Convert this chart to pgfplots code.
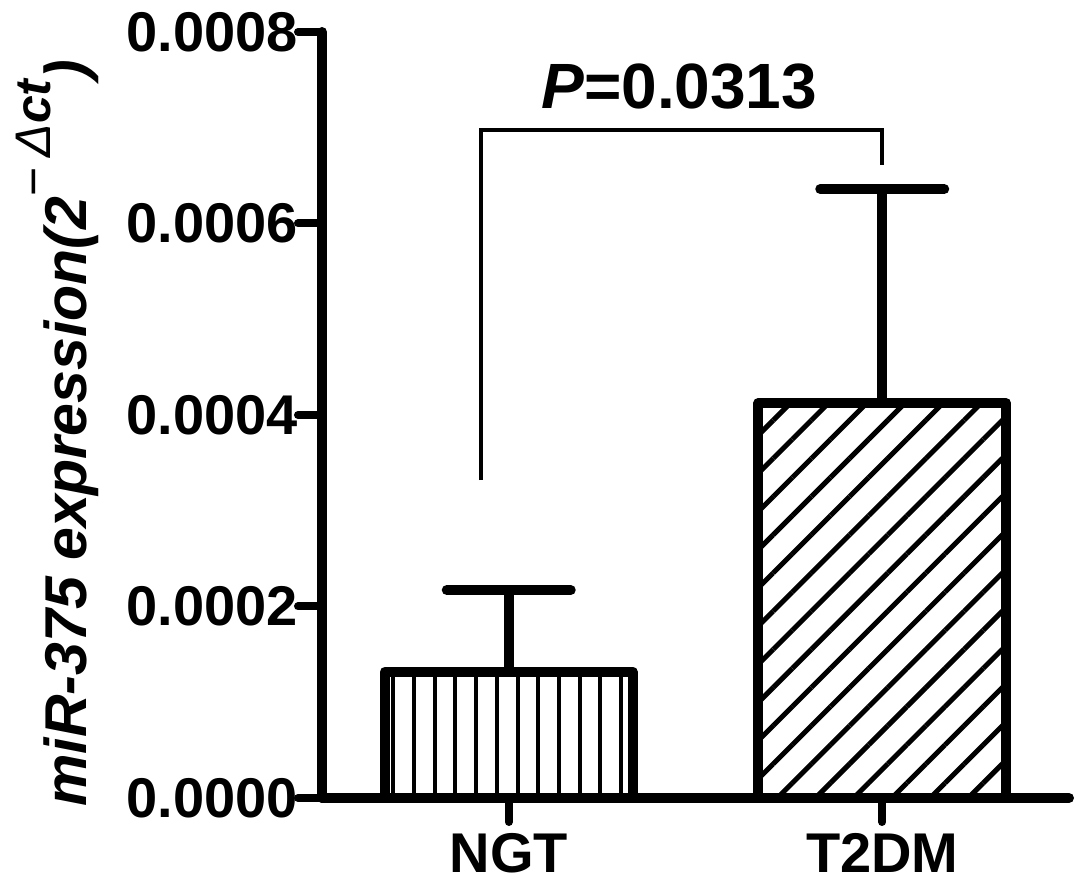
\documentclass[border=0pt]{standalone}
\usepackage{fontspec}
\setmainfont{Liberation Sans}
\usepackage{pgfplots}
\pgfplotsset{compat=1.18}
\usetikzlibrary{patterns.meta}
\begin{document}
\begin{tikzpicture}
\path[use as bounding box] (-161pt,-45pt) rectangle (382.5pt,399pt);
\begin{axis}[
  at={(0,0)}, anchor=south west,
  scale only axis, width=373.5pt, height=383pt,
  xmin=-0.5, xmax=1.5, ymin=0, ymax=0.0008,
  axis x line*=bottom, axis y line*=left,
  axis line style={line width=5pt, line cap=round, black},
  xtick={0,1}, xticklabels={NGT,T2DM},
  ytick={0,0.0002,0.0004,0.0006,0.0008},
  yticklabels={0.0000,0.0002,0.0004,0.0006,0.0008},
  scaled y ticks=false,
  tick align=outside, major tick length=12pt,
  tick style={line width=4pt, black, line cap=round},
  tick label style={font=\fontsize{28}{30}\selectfont\bfseries, inner sep=0pt},
  yticklabel style={anchor=east},
  xticklabel style={anchor=north, yshift=-5.5pt},
  every axis y label/.style={at={(axis description cs:-0.3146,-0.01175)}, rotate=90, anchor=base west, inner sep=0pt},
  ylabel={\fontsize{29.5}{32}\selectfont\bfseries\itshape miR-375 expression(2\raisebox{18pt}{\fontsize{25}{27}\selectfont\upshape\mdseries −\hspace{5pt}\itshape Δ\bfseries ct})},
  clip=false,
]
\addplot[ybar, bar width=0.663, bar shift=0pt, draw=black, line width=5pt, line join=round,
  pattern={Lines[angle=90,distance=10.35pt,line width=2pt]}, pattern color=black,
  error bars/.cd, y dir=plus, y explicit, error mark=|,
  error bar style={line width=5pt, black},
  error mark options={line width=5pt, mark size=31pt, line cap=round, black}]
  coordinates {(0,0.000132) +- (0,0.0000852)};
\addplot[ybar, bar width=0.663, bar shift=0pt, draw=black, line width=5pt, line join=round,
  pattern={Lines[angle=45,distance=13.5pt,line width=2.5pt]}, pattern color=black,
  error bars/.cd, y dir=plus, y explicit, error mark=|,
  error bar style={line width=5pt, black},
  error mark options={line width=5pt, mark size=31pt, line cap=round, black}]
  coordinates {(1,0.0004125) +- (0,0.0002235)};
\addplot[line width=2pt, black, mark=none, sharp plot]
  coordinates {(-0.0736,0.000332) (-0.0736,0.0006977) (1,0.0006977) (1,0.000661)};
\node[font=\fontsize{32}{34}\selectfont\bfseries, inner sep=0pt] at (axis cs:0.4565,0.000743) {\textit{P}=0.0313};
\end{axis}
\end{tikzpicture}
\end{document}
